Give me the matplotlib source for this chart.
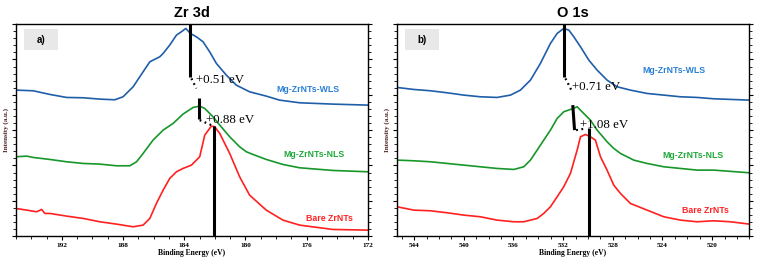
import numpy as np
import matplotlib
matplotlib.use('Agg')
import matplotlib.pyplot as plt
from matplotlib.patches import Rectangle
from matplotlib.ticker import MultipleLocator, AutoMinorLocator

# ---- Zr 3d panel data (binding energy, intensity a.u.) ----
zr_wls_x = [195.00, 193.87, 192.78, 191.69, 190.60, 189.52, 188.54, 188.00, 187.34, 186.69,
            186.25, 185.60, 185.38, 184.95, 184.51, 184.19, 183.90, 183.60, 183.21, 182.77,
            182.34, 181.90, 181.25, 180.60, 179.73, 178.64, 177.77, 176.46, 174.29, 172.00]
zr_wls_y = [438, 436, 425, 416, 415, 411, 409, 418, 448, 493,
            523, 538, 548, 573, 603, 613, 623, 608, 598, 583,
            553, 518, 483, 453, 433, 420, 408, 400, 396, 393]

zr_nls_x = [195.00, 194.30, 193.87, 192.78, 191.69, 190.60, 189.52, 188.43, 187.56, 187.12,
            186.69, 186.04, 185.38, 184.73, 184.08, 183.42, 182.99, 182.66, 182.12, 181.68,
            181.03, 180.38, 179.94, 179.51, 178.64, 177.55, 176.46, 174.29, 172.00]
zr_nls_y = [238, 240, 236, 230, 223, 218, 216, 211, 211, 223,
            248, 288, 318, 338, 366, 386, 390, 383, 358, 333,
            298, 268, 253, 245, 230, 215, 205, 197, 193]

zr_bare_x = [195.00, 194.30, 193.65, 193.32, 193.11, 192.78, 191.69, 190.60, 189.52, 188.43,
             187.34, 186.69, 186.25, 185.82, 185.38, 184.95, 184.51, 184.08, 183.53, 182.99,
             182.66, 182.23, 182.01, 181.68, 181.03, 180.38, 179.73, 178.64, 177.55, 176.46,
             174.29, 172.00]
zr_bare_y = [83, 78, 73, 80, 68, 68, 60, 53, 43, 36,
             28, 33, 53, 98, 138, 173, 193, 203, 213, 238,
             303, 330, 328, 308, 248, 178, 123, 78, 48, 33,
             20, 18]

# peak markers: (x_top, y_top, x_bottom, y_bottom)
zr_peaks = [(183.60, 636, 183.60, 478), (183.03, 413, 183.03, 350), (182.08, 330, 182.08, 0)]
zr_dots = [(183.53, 473, 183.21, 443), (182.99, 348, 182.23, 333)]
zr_shift_txt = ['+0.51 eV', '+0.88 eV']
zr_shift_pos = [(183.21, 468), (182.55, 348)]

# ---- O 1s panel data ----
o_wls_x = [545.37, 544.03, 542.68, 541.34, 540.00, 538.66, 537.32, 536.24, 535.44, 534.63,
           533.83, 533.02, 532.48, 531.95, 531.54, 531.14, 530.60, 529.93, 529.26, 528.46,
           527.65, 526.58, 525.24, 523.89, 522.55, 521.21, 519.87, 517.00]
o_wls_y = [446, 440, 436, 430, 423, 418, 416, 423, 438, 468,
           518, 578, 608, 623, 618, 598, 568, 528, 498, 468,
           448, 438, 428, 423, 418, 416, 412, 408]

o_nls_x = [545.37, 544.03, 542.68, 541.34, 540.00, 538.66, 537.32, 535.97, 535.17, 534.63,
           534.09, 533.56, 533.02, 532.48, 531.95, 531.41, 530.87, 530.34, 529.80, 529.26,
           528.46, 527.92, 527.38, 526.31, 525.24, 523.89, 522.55, 521.21, 519.87, 517.00]
o_nls_y = [228, 226, 223, 218, 213, 208, 203, 200, 208, 228,
           258, 288, 318, 353, 373, 380, 388, 368, 348, 318,
           283, 263, 248, 228, 218, 208, 203, 198, 198, 190]

o_bare_x = [545.37, 544.03, 542.68, 541.34, 540.00, 538.66, 537.32, 535.97, 535.17, 534.09,
            533.56, 533.02, 532.48, 531.95, 531.41, 530.87, 530.60, 530.20, 529.80, 529.40,
            528.99, 528.46, 527.92, 527.38, 526.58, 525.24, 523.89, 522.55, 521.21, 519.87,
            518.52, 517.00]
o_bare_y = [88, 78, 76, 70, 63, 58, 48, 43, 43, 53,
            68, 88, 118, 148, 188, 258, 298, 305, 298, 288,
            238, 198, 153, 128, 98, 78, 58, 48, 43, 46,
            43, 36]

o_peaks = [(531.89, 636, 531.89, 478), (531.22, 393, 531.08, 318), (529.88, 323, 529.88, 0)]
o_dots = [(531.81, 473, 531.27, 433), (530.95, 318, 530.14, 323)]
o_shift_txt = ['+0.71 eV', '+1.08 eV']
o_shift_pos = [(531.27, 448), (530.60, 333)]

names = ['Mg-ZrNTs-WLS', 'Mg-ZrNTs-NLS', 'Bare ZrNTs']
line_colors = ['#1f5ea8', '#17962a', '#ff2020']
text_colors = ['#2b80d6', '#20a83a', '#ff2020']
zr_name_pos = [(175.9, 440), (175.5, 246), (174.5, 53)]
o_name_pos = [(523.1, 498), (521.5, 242), (520.5, 78)]

plt.rcParams['font.family'] = ['Liberation Sans', 'DejaVu Sans']

fig = plt.figure(figsize=(7.6, 2.65), dpi=100)
ax1 = fig.add_axes([0.021, 0.109, 0.463, 0.8])
ax2 = fig.add_axes([0.522, 0.109, 0.464, 0.8])

panels = [
    (ax1, 'Zr 3d', 'a)', (195, 172), [192, 188, 184, 180, 176, 172],
     [(zr_wls_x, zr_wls_y), (zr_nls_x, zr_nls_y), (zr_bare_x, zr_bare_y)],
     zr_peaks, zr_dots, zr_shift_txt, zr_shift_pos, zr_name_pos),
    (ax2, 'O 1s', 'b)', (545.4, 517.0), [544, 540, 536, 532, 528, 524, 520],
     [(o_wls_x, o_wls_y), (o_nls_x, o_nls_y), (o_bare_x, o_bare_y)],
     o_peaks, o_dots, o_shift_txt, o_shift_pos, o_name_pos),
]

for ax, title, tag, xlim, xt, curves, peaks, dots, stxt, spos, npos in panels:
    for (x, y), c in zip(curves, line_colors):
        ax.plot(x, y, color=c, lw=1.2)
    for x0, y0, x1, y1 in peaks:
        ax.plot([x0, x1], [y0, y1], color='black', lw=2.2, solid_capstyle='butt')
    for x0, y0, x1, y1 in dots:
        ax.plot([x0, x1], [y0, y1], color='black', lw=1.6, ls=(0, (0.8, 1.6)))
    for t, (tx, ty) in zip(stxt, spos):
        ax.text(tx, ty, t, family='Liberation Serif', fontsize=9.3, va='center', ha='left')
    for n, c, (tx, ty) in zip(names, text_colors, npos):
        ax.text(tx, ty, n, color=c, fontsize=6.3, fontweight='bold', ha='center', va='center')

    ax.set_xlim(*xlim)
    ax.set_ylim(0, 636)
    ax.set_xticks(xt)
    ax.set_xticklabels([str(v) for v in xt], family='Liberation Serif',
                       fontweight='bold', fontsize=5.2)
    ax.xaxis.set_minor_locator(MultipleLocator(1))
    ax.set_yticks(np.linspace(0, 636, 7))
    ax.yaxis.set_minor_locator(AutoMinorLocator(5))
    ax.tick_params(axis='y', which='both', left=True, right=True, labelleft=False)
    ax.tick_params(which='major', length=3, width=0.8, direction='out', pad=2)
    ax.tick_params(which='minor', length=2, width=0.6, direction='out')
    for s in ax.spines.values():
        s.set_linewidth(1.0)

    ax.set_title(title, fontsize=10.5, fontweight='bold', pad=5)
    ax.set_xlabel('Binding Energy (eV)', family='Liberation Serif', fontweight='bold',
                  fontsize=5.5, labelpad=1)
    ax.set_ylabel('Intensity (a.u.)', family='Liberation Serif', fontweight='bold',
                  fontsize=5, color='#4a1f1f', labelpad=2)

    ax.add_patch(Rectangle((0.023, 0.877), 0.096, 0.099, transform=ax.transAxes,
                           facecolor='#e8e8e8', edgecolor='none', zorder=0))
    ax.text(0.071, 0.926, tag, transform=ax.transAxes, fontsize=7, fontweight='bold',
            ha='center', va='center')

fig.savefig('out.png', dpi=100)
